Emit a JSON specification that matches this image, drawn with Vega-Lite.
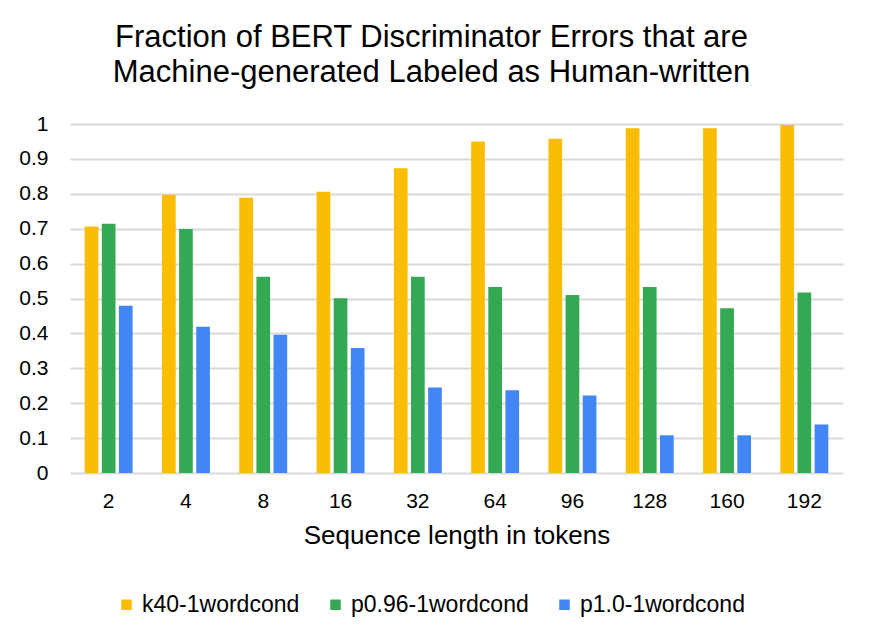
{
  "$schema": "https://vega.github.io/schema/vega-lite/v6.json",
  "width": 773,
  "height": 349,
  "autosize": "none",
  "padding": {"left": 70, "top": 124, "right": 29, "bottom": 170},
  "background": "white",
  "title": {
    "text": ["Fraction of BERT Discriminator Errors that are", "Machine-generated Labeled as Human-written"],
    "font": "Liberation Sans",
    "fontSize": 31,
    "fontWeight": "normal",
    "color": "#000000",
    "lineHeight": 35,
    "anchor": "middle",
    "dx": -25,
    "offset": 24
  },
  "data": {
    "values": [
      {"len": "2", "model": "k40-1wordcond", "frac": 0.706},
      {"len": "2", "model": "p0.96-1wordcond", "frac": 0.714},
      {"len": "2", "model": "p1.0-1wordcond", "frac": 0.479},
      {"len": "4", "model": "k40-1wordcond", "frac": 0.797},
      {"len": "4", "model": "p0.96-1wordcond", "frac": 0.699},
      {"len": "4", "model": "p1.0-1wordcond", "frac": 0.419},
      {"len": "8", "model": "k40-1wordcond", "frac": 0.789},
      {"len": "8", "model": "p0.96-1wordcond", "frac": 0.562},
      {"len": "8", "model": "p1.0-1wordcond", "frac": 0.396},
      {"len": "16", "model": "k40-1wordcond", "frac": 0.806},
      {"len": "16", "model": "p0.96-1wordcond", "frac": 0.501},
      {"len": "16", "model": "p1.0-1wordcond", "frac": 0.358},
      {"len": "32", "model": "k40-1wordcond", "frac": 0.873},
      {"len": "32", "model": "p0.96-1wordcond", "frac": 0.562},
      {"len": "32", "model": "p1.0-1wordcond", "frac": 0.245},
      {"len": "64", "model": "k40-1wordcond", "frac": 0.950},
      {"len": "64", "model": "p0.96-1wordcond", "frac": 0.533},
      {"len": "64", "model": "p1.0-1wordcond", "frac": 0.237},
      {"len": "96", "model": "k40-1wordcond", "frac": 0.958},
      {"len": "96", "model": "p0.96-1wordcond", "frac": 0.510},
      {"len": "96", "model": "p1.0-1wordcond", "frac": 0.222},
      {"len": "128", "model": "k40-1wordcond", "frac": 0.988},
      {"len": "128", "model": "p0.96-1wordcond", "frac": 0.533},
      {"len": "128", "model": "p1.0-1wordcond", "frac": 0.108},
      {"len": "160", "model": "k40-1wordcond", "frac": 0.988},
      {"len": "160", "model": "p0.96-1wordcond", "frac": 0.472},
      {"len": "160", "model": "p1.0-1wordcond", "frac": 0.108},
      {"len": "192", "model": "k40-1wordcond", "frac": 0.997},
      {"len": "192", "model": "p0.96-1wordcond", "frac": 0.517},
      {"len": "192", "model": "p1.0-1wordcond", "frac": 0.139}
    ]
  },
  "mark": {"type": "bar"},
  "encoding": {
    "x": {
      "field": "len",
      "type": "nominal",
      "sort": null,
      "scale": {"paddingInner": 0.38, "paddingOuter": 0.19},
      "axis": {
        "title": "Sequence length in tokens",
        "titleFont": "Liberation Sans",
        "titleFontSize": 26,
        "titleFontWeight": "normal",
        "titleColor": "#000000",
        "titlePadding": 11,
        "labelFont": "Liberation Sans",
        "labelFontSize": 21,
        "labelColor": "#000000",
        "labelAngle": 0,
        "labelPadding": 17,
        "domain": false,
        "ticks": false,
        "grid": false
      }
    },
    "xOffset": {
      "field": "model",
      "type": "nominal",
      "scale": {"paddingInner": 0.2, "paddingOuter": 0}
    },
    "y": {
      "field": "frac",
      "type": "quantitative",
      "scale": {"domain": [0, 1], "nice": false},
      "axis": {
        "title": null,
        "values": [0, 0.1, 0.2, 0.3, 0.4, 0.5, 0.6, 0.7, 0.8, 0.9, 1],
        "format": "~g",
        "labelFont": "Liberation Sans",
        "labelFontSize": 21,
        "labelColor": "#000000",
        "labelPadding": 22,
        "domain": false,
        "ticks": false,
        "grid": true,
        "gridColor": "#d9d9d9",
        "gridWidth": 2
      }
    },
    "color": {
      "field": "model",
      "type": "nominal",
      "scale": {
        "domain": ["k40-1wordcond", "p0.96-1wordcond", "p1.0-1wordcond"],
        "range": ["#FBBC04", "#34A853", "#4285F4"]
      },
      "legend": {
        "title": null,
        "orient": "none",
        "direction": "horizontal",
        "legendX": 45,
        "legendY": 469,
        "columns": 3,
        "columnPadding": 24,
        "symbolType": "square",
        "symbolSize": 110,
        "symbolStrokeWidth": 0,
        "labelFont": "Liberation Sans",
        "labelFontSize": 23,
        "labelColor": "#000000",
        "labelOffset": 4,
        "labelLimit": 300
      }
    }
  },
  "config": {"view": {"stroke": null}}
}
